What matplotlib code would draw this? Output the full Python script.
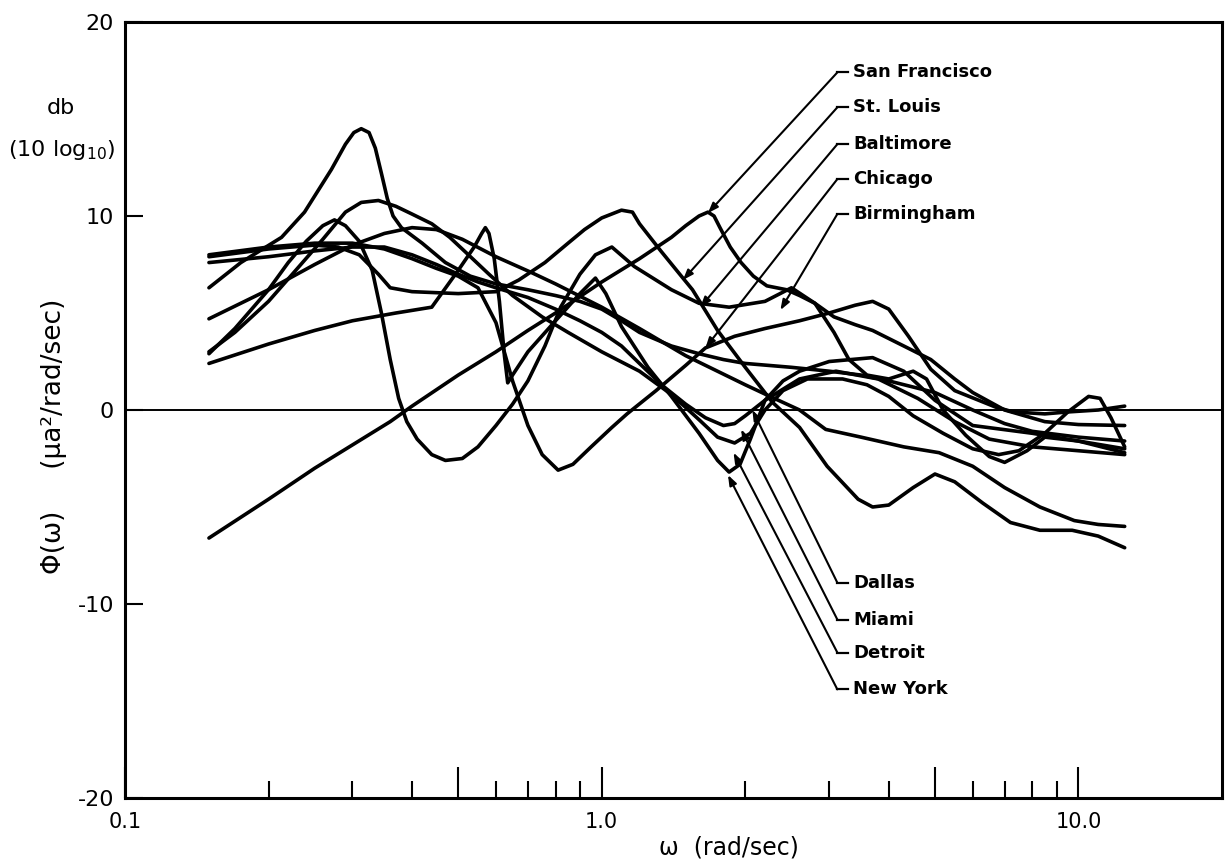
import matplotlib
matplotlib.use("Agg")
import matplotlib.pyplot as plt
from matplotlib.ticker import FixedLocator, NullFormatter, FixedFormatter

plt.rcParams['font.family'] = ['DejaVu Sans']

# ---------------- data ----------------
sf_w = [0.15, 0.2, 0.25, 0.3, 0.36, 0.4, 0.5, 0.6, 0.7, 0.8, 1.0, 1.2, 1.4, 1.5, 1.6, 1.67, 1.72, 1.77,
        1.86, 1.96, 2.08, 2.22, 2.44, 2.6, 2.8, 3.07, 3.4, 3.7, 4.3, 4.9, 5.5, 6.0, 7.0, 8.5, 10.0, 12.5]
sf_db = [-6.6, -4.6, -3.0, -1.8, -0.6, 0.2, 1.8, 3.0, 4.1, 5.0, 6.6, 7.8, 8.9, 9.5, 10.0, 10.2, 10.0, 9.4,
         8.4, 7.6, 6.9, 6.4, 6.2, 5.9, 5.5, 4.8, 4.4, 4.1, 3.3, 2.6, 1.6, 0.9, 0.0, -0.6, -0.75, -0.8]

bir_w = [0.15, 0.175, 0.213, 0.238, 0.271, 0.29, 0.302, 0.313, 0.325, 0.335, 0.345, 0.355, 0.365, 0.38,
         0.42, 0.47, 0.53, 0.6, 0.7, 0.8, 0.9, 1.0, 1.1, 1.2, 1.4, 1.6, 1.8, 2.0, 2.5, 3.0, 3.5, 4.0, 5.0,
         6.0, 7.0, 8.0, 10.0, 12.5]
bir_db = [6.3, 7.6, 8.9, 10.2, 12.4, 13.7, 14.3, 14.5, 14.3, 13.5, 12.2, 10.9, 10.0, 9.4,
          8.6, 7.6, 6.9, 6.5, 6.2, 5.9, 5.6, 5.2, 4.6, 4.0, 3.3, 2.9, 2.6, 2.4, 2.2, 2.0, 1.8, 1.5, 0.9,
          0.0, -0.7, -1.1, -1.4, -1.6]

det_w = [0.15, 0.17, 0.2, 0.23, 0.26, 0.29, 0.313, 0.34, 0.37, 0.4, 0.44, 0.48, 0.52, 0.58, 0.65, 0.75,
         0.85, 1.0, 1.2, 1.4, 1.6, 1.75, 1.9, 2.05, 2.2, 2.4, 2.7, 3.2, 3.6, 4.0, 4.5, 5.2, 6.0, 6.8, 7.5,
         8.5, 9.5, 10.5, 11.1, 11.7, 12.5]
det_db = [3.0, 4.0, 5.6, 7.3, 8.8, 10.2, 10.7, 10.8, 10.5, 10.1, 9.6, 8.9, 8.1, 7.0, 5.9, 4.8,
          4.0, 3.0, 2.0, 0.8, -0.5, -1.4, -1.7, -1.2, 0.0, 1.0, 1.6, 1.6, 1.3, 0.7, -0.3, -1.2, -2.0, -2.3, -2.1,
          -1.2, -0.1, 0.7, 0.6, -0.4, -1.9]

bal_w = [0.15, 0.17, 0.2, 0.22, 0.24, 0.26, 0.275, 0.29, 0.31, 0.33, 0.345, 0.36, 0.375, 0.39, 0.41, 0.44,
         0.47, 0.51, 0.55, 0.6, 0.65, 0.7, 0.76, 0.82, 0.9, 0.97, 1.05, 1.17, 1.4, 1.6, 1.85, 2.2, 2.5, 2.8,
         3.07, 3.3, 3.6, 4.0, 4.5, 4.8, 5.2, 5.8, 6.5, 7.0, 7.8, 8.5, 10.0, 12.5]
bal_db = [2.9, 4.2, 6.2, 7.6, 8.7, 9.5, 9.8, 9.5, 8.7, 7.2, 5.0, 2.6, 0.6, -0.6, -1.5, -2.3,
          -2.6, -2.5, -1.9, -0.8, 0.3, 1.5, 3.3, 5.3, 7.0, 8.0, 8.4, 7.4, 6.2, 5.5, 5.3, 5.6, 6.3, 5.5,
          4.0, 2.6, 1.8, 1.6, 2.0, 1.6, 0.0, -1.3, -2.4, -2.7, -2.1, -1.4, -1.6, -2.2]

ny_w = [0.15, 0.2, 0.25, 0.3, 0.37, 0.44, 0.5, 0.54, 0.56, 0.57, 0.58, 0.595, 0.61, 0.625, 0.635, 0.65,
        0.7, 0.8, 0.9, 0.97, 1.02, 1.1, 1.25, 1.4, 1.6, 1.75, 1.85, 1.95, 2.05, 2.2, 2.4, 2.6, 3.0, 3.7,
        4.3, 5.0, 6.0, 8.0, 10.0, 12.5]
ny_db = [2.4, 3.4, 4.1, 4.6, 5.0, 5.3, 7.2, 8.4, 9.1, 9.4, 9.1, 7.8, 5.6, 2.8, 1.4, 1.8,
         3.0, 4.6, 6.0, 6.8, 6.0, 4.3, 2.2, 0.7, -1.2, -2.6, -3.2, -2.8, -1.5, 0.5, 1.5, 2.0, 2.5, 2.7,
         2.0, 0.5, -0.8, -1.2, -1.6, -2.0]

stl_w = [0.15, 0.2, 0.25, 0.28, 0.31, 0.34, 0.36, 0.4, 0.5, 0.6, 0.67, 0.76, 0.85, 0.92, 1.0, 1.1, 1.16,
         1.2, 1.33, 1.48, 1.55, 1.75, 2.0, 2.28, 2.6, 2.97, 3.45, 3.7, 4.0, 4.5, 5.0, 5.5, 6.3, 7.2, 8.3,
         9.7, 11.0, 12.5]
stl_db = [7.9, 8.3, 8.5, 8.4, 8.0, 7.0, 6.3, 6.1, 6.0, 6.1, 6.7, 7.6, 8.6, 9.3, 9.9, 10.3, 10.2,
          9.6, 8.2, 6.8, 6.2, 4.1, 2.2, 0.4, -0.9, -2.9, -4.6, -5.0, -4.9, -4.0, -3.3, -3.7, -4.8, -5.8, -6.2,
          -6.2, -6.5, -7.1]

dal_w = [0.15, 0.2, 0.25, 0.3, 0.35, 0.4, 0.45, 0.51, 0.6, 0.71, 0.8, 1.0, 1.2, 1.5, 2.0, 2.3, 2.6, 2.95,
         3.5, 4.3, 5.1, 6.0, 7.0, 8.3, 9.8, 11.0, 12.5]
dal_db = [4.7, 6.2, 7.5, 8.5, 9.1, 9.4, 9.3, 8.8, 7.9, 7.1, 6.5, 5.3, 4.2, 2.8, 1.3, 0.6, 0.0, -1.0,
          -1.4, -1.9, -2.2, -2.9, -4.0, -5.0, -5.7, -5.9, -6.0]

mia_w = [0.15, 0.2, 0.25, 0.3, 0.35, 0.4, 0.45, 0.5, 0.55, 0.6, 0.7, 0.8, 0.9, 1.0, 1.1, 1.2, 1.35, 1.5,
         1.65, 1.8, 1.9, 2.0, 2.2, 2.6, 3.1, 3.8, 4.6, 5.5, 6.5, 8.0, 10.0, 12.5]
mia_db = [7.6, 7.9, 8.2, 8.4, 8.4, 8.0, 7.5, 7.0, 6.6, 6.3, 5.8, 5.2, 4.6, 4.0, 3.3, 2.4, 1.2, 0.3,
          -0.4, -0.8, -0.7, -0.3, 0.5, 1.6, 2.0, 1.6, 0.6, -0.6, -1.5, -1.9, -2.1, -2.3]

chi_w = [0.15, 0.2, 0.25, 0.3, 0.35, 0.4, 0.45, 0.5, 0.55, 0.6, 0.65, 0.7, 0.75, 0.81, 0.87, 0.95, 1.05,
         1.13, 1.3, 1.5, 1.65, 1.9, 2.2, 2.6, 3.0, 3.4, 3.7, 4.0, 4.4, 4.9, 5.5, 6.7, 7.3, 8.5, 9.5, 11.0, 12.5]
chi_db = [8.0, 8.4, 8.6, 8.6, 8.3, 7.8, 7.3, 6.9, 6.3, 4.5, 1.5, -0.8, -2.3, -3.1, -2.8, -1.9, -0.9,
          -0.2, 1.0, 2.3, 3.2, 3.8, 4.2, 4.6, 5.0, 5.4, 5.6, 5.2, 3.8, 2.1, 1.0, 0.15, -0.1, -0.2, -0.1, 0.0, 0.2]

curves_w = [sf_w, bir_w, det_w, bal_w, ny_w, stl_w, dal_w, mia_w, chi_w]
curves_db = [sf_db, bir_db, det_db, bal_db, ny_db, stl_db, dal_db, mia_db, chi_db]

# city labels: name, label level (db), arrow tip (omega, db)
upper_names = ["San Francisco", "St. Louis", "Baltimore", "Chicago", "Birmingham"]
upper_label_db = [17.4, 15.6, 13.7, 11.9, 10.1]
upper_tip_w = [1.67, 1.48, 1.61, 1.65, 2.37]
upper_tip_db = [10.15, 6.7, 5.3, 3.2, 5.15]

lower_names = ["Dallas", "Miami", "Detroit", "New York"]
lower_label_db = [-8.9, -10.8, -12.5, -14.4]
lower_tip_w = [2.07, 1.96, 1.89, 1.84]
lower_tip_db = [0.0, -1.0, -2.2, -3.35]

label_text_w = 3.37
label_corner_w = 3.12
label_dash_end_w = 3.29

x_tick_major = [0.1, 0.5, 1.0, 5.0, 10.0]
x_tick_major_labels = ["0.1", "", "1.0", "", "10.0"]
x_tick_minor = [0.2, 0.3, 0.4, 0.6, 0.7, 0.8, 0.9, 2, 3, 4, 6, 7, 8, 9]
y_ticks = [-20, -10, 0, 10, 20]
y_tick_labels = ["-20", "-10", "0", "10", "20"]

# ---------------- figure ----------------
W, H = 1226, 865
fig = plt.figure(figsize=(W / 100, H / 100), dpi=100)
ax = fig.add_axes([125 / W, 1 - 798 / H, (1222 - 125) / W, (798 - 22) / H])
ax.set_xscale('log')
ax.set_xlim(0.1, 20)
ax.set_ylim(-20, 20)

for w, d in zip(curves_w, curves_db):
    ax.plot(w, d, color='black', lw=2.6, solid_capstyle='round', solid_joinstyle='round')

ax.axhline(0, color='black', lw=1.4)

for sp in ax.spines.values():
    sp.set_linewidth(2.2)

ax.xaxis.set_major_locator(FixedLocator(x_tick_major))
ax.xaxis.set_major_formatter(FixedFormatter(x_tick_major_labels))
ax.xaxis.set_minor_locator(FixedLocator(x_tick_minor))
ax.xaxis.set_minor_formatter(NullFormatter())
ax.tick_params(axis='x', which='major', direction='in', length=22, width=1.5, pad=10, labelsize=15)
ax.tick_params(axis='x', which='minor', direction='in', length=12, width=1.5)
ax.set_yticks(y_ticks)
ax.set_yticklabels(y_tick_labels)
ax.tick_params(axis='y', which='major', direction='in', length=13, width=1.5, pad=8, labelsize=16)
ax.tick_params(axis='y', which='minor', left=False)

# leaders and labels
for names, levels, tw, td in [(upper_names, upper_label_db, upper_tip_w, upper_tip_db),
                              (lower_names, lower_label_db, lower_tip_w, lower_tip_db)]:
    for name, lv, xw, yd in zip(names, levels, tw, td):
        ax.plot([label_corner_w, label_dash_end_w], [lv, lv], color='black', lw=1.6)
        ax.annotate('', xy=(xw, yd), xytext=(label_corner_w, lv),
                    arrowprops=dict(arrowstyle='-|>,head_length=0.6,head_width=0.22',
                                    color='black', lw=1.5, shrinkA=0, shrinkB=0))
        ax.text(label_text_w, lv, name, ha='left', va='center', fontsize=13, fontweight='bold')

# axis texts
fig.text(729 / W, 1 - 848 / H, "ω  (rad/sec)", ha='center', va='center', fontsize=17)
fig.text(54 / W, 1 - 436 / H, "Φ(ω)     (μa²/rad/sec)", ha='center', va='center',
         rotation=90, fontsize=19)
fig.text(61 / W, 1 - 108 / H, "db", ha='center', va='center', fontsize=16)
fig.text(62 / W, 1 - 150 / H, "(10 log$_{10}$)", ha='center', va='center', fontsize=16)

fig.savefig("out.png", dpi=100)
